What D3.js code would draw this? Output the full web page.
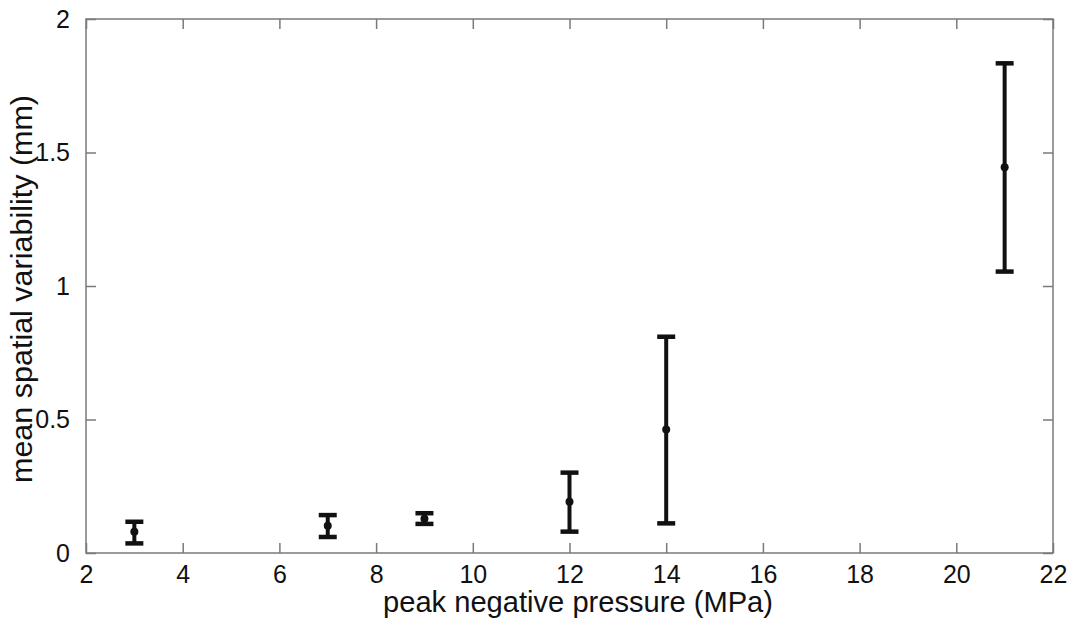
<!DOCTYPE html>
<html>
<head>
<meta charset="utf-8">
<script src="https://cdn.jsdelivr.net/npm/d3@7"></script>
<style>
  body { margin: 0; background: #fff; }
  svg { display: block; }
  text { font-family: "Liberation Sans", Arial, sans-serif; fill: #111; }
</style>
</head>
<body>
<svg id="chart" width="1070" height="621"></svg>
<script>
// values
var pressures = [3, 7, 9, 12, 14, 21];
var means     = [0.080, 0.102, 0.128, 0.192, 0.463, 1.445];
var lowers    = [0.036, 0.060, 0.109, 0.080, 0.111, 1.054];
var uppers    = [0.117, 0.142, 0.149, 0.301, 0.810, 1.834];
var xTicks = [2, 4, 6, 8, 10, 12, 14, 16, 18, 20, 22];
var yTicks = [0, 0.5, 1, 1.5, 2];

var margin = {left : 86, right : 17, top : 19, bottom : 68};
var width = 1070, height = 621;

var svg = d3.select("#chart");

var x = d3.scaleLinear().domain([2, 22]).range([margin.left, width - margin.right]);
var y = d3.scaleLinear().domain([0, 2]).range([height - margin.bottom, margin.top]);

var axisColor = "#7a7a7a";
var tickLen = 10;

// frame
svg.append("rect")
  .attr("x", x(2)).attr("y", y(2))
  .attr("width", x(22) - x(2)).attr("height", y(0) - y(2))
  .attr("fill", "none").attr("stroke", axisColor).attr("stroke-width", 1.5);

// inward ticks on all sides (matlab style)
function styleAxis(g){
  g.select(".domain").remove();
  g.selectAll(".tick line").attr("stroke", axisColor).attr("stroke-width", 1.5);
  g.selectAll(".tick text").attr("fill", "#111").style("font-size", "25px")
    .style("font-family", '"Liberation Sans", Arial, sans-serif');
}

svg.append("g")
  .attr("transform", "translate(0," + y(0) + ")")
  .call(d3.axisBottom(x).tickValues(xTicks).tickFormat(d3.format("d")).tickSizeInner(-tickLen).tickSizeOuter(0).tickPadding(12))
  .call(styleAxis);

svg.append("g")
  .attr("transform", "translate(0," + y(2) + ")")
  .call(d3.axisTop(x).tickValues(xTicks).tickFormat("").tickSizeInner(-tickLen).tickSizeOuter(0))
  .call(styleAxis);

svg.append("g")
  .attr("transform", "translate(" + x(2) + ",0)")
  .call(d3.axisLeft(y).tickValues(yTicks).tickFormat(function(d){ return d; }).tickSizeInner(-tickLen).tickSizeOuter(0).tickPadding(16))
  .call(styleAxis);

svg.append("g")
  .attr("transform", "translate(" + x(22) + ",0)")
  .call(d3.axisRight(y).tickValues(yTicks).tickFormat("").tickSizeInner(-tickLen).tickSizeOuter(0))
  .call(styleAxis);

// error bars
var capHalf = 9;
var bars = svg.append("g").selectAll("g")
  .data(pressures.map(function(p, i){ return {p : p, m : means[i], lo : lowers[i], hi : uppers[i]}; }))
  .enter().append("g");

bars.append("line")
  .attr("x1", function(d){ return x(d.p); }).attr("x2", function(d){ return x(d.p); })
  .attr("y1", function(d){ return y(d.lo); }).attr("y2", function(d){ return y(d.hi); })
  .attr("stroke", "#111").attr("stroke-width", 4);

bars.append("line")
  .attr("x1", function(d){ return x(d.p) - capHalf; }).attr("x2", function(d){ return x(d.p) + capHalf; })
  .attr("y1", function(d){ return y(d.hi); }).attr("y2", function(d){ return y(d.hi); })
  .attr("stroke", "#111").attr("stroke-width", 4.5);

bars.append("line")
  .attr("x1", function(d){ return x(d.p) - capHalf; }).attr("x2", function(d){ return x(d.p) + capHalf; })
  .attr("y1", function(d){ return y(d.lo); }).attr("y2", function(d){ return y(d.lo); })
  .attr("stroke", "#111").attr("stroke-width", 4.5);

bars.append("circle")
  .attr("cx", function(d){ return x(d.p); }).attr("cy", function(d){ return y(d.m); })
  .attr("r", 4).attr("fill", "#111");

// axis labels
svg.append("text")
  .attr("x", 578).attr("y", 612)
  .attr("text-anchor", "middle").style("font-size", "29px")
  .attr("textLength", 390).attr("lengthAdjust", "spacingAndGlyphs")
  .text("peak negative pressure (MPa)");

svg.append("text")
  .attr("transform", "translate(32," + 289 + ") rotate(-90)")
  .attr("text-anchor", "middle").style("font-size", "29px")
  .attr("textLength", 388).attr("lengthAdjust", "spacingAndGlyphs")
  .text("mean spatial variability (mm)");
</script>
</body>
</html>
